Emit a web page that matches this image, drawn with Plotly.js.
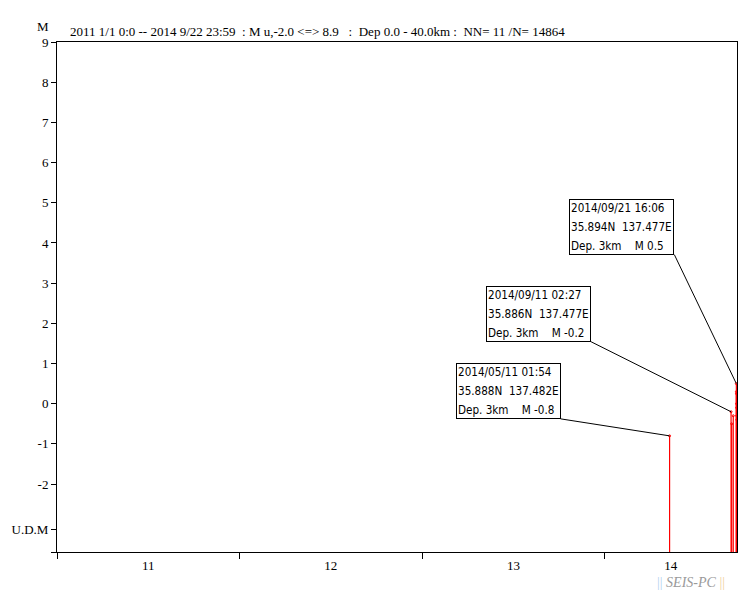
<!DOCTYPE html>
<html>
<head>
<meta charset="utf-8">
<script src="https://cdn.plot.ly/plotly-3.0.1.min.js"></script>
<style>html,body{margin:0;padding:0;background:#fff;}</style>
</head>
<body>
<div id="chart" style="width:751px;height:593px;"></div>
<script>
// ---- data ----
const eventTimes = ['2014-05-11 01:54', '2014-09-11 02:27', '2014-09-12 08:00', '2014-09-15 12:00',
  '2014-09-21 16:06', '2014-09-21 19:00', '2014-09-21 22:00', '2014-09-22 02:00',
  '2014-09-22 06:00', '2014-09-22 10:00', '2014-09-22 15:00'];
const eventMags = [-0.8, -0.2, -0.5, -0.3, 0.5, 0.3, 0.25, 0.0, -0.1, -0.3, -0.4];

const labelled = [0, 1, 4];
const labelDates = ['2014/05/11 01:54', '2014/09/11 02:27', '2014/09/21 16:06'];
const labelLat = ['35.888N', '35.886N', '35.894N'];
const labelLon = ['137.482E', '137.477E', '137.477E'];
const labelDep = ['3km', '3km', '3km'];
const labelOffsets = [[-109, -17], [-140, -70], [-62, -129]];

const yearStarts = ['2011-01-01', '2012-01-01', '2013-01-01', '2014-01-01'];
const yearLabels = ['11', '12', '13', '14'];
const xRange = ['2011-01-01 00:00', '2014-09-23 00:00'];

const yRange = [-3.69, 9];
const udmValue = -3.12;
const yTickVals = [-2, -1, 0, 1, 2, 3, 4, 5, 6, 7, 8, 9];
const yTickText = ['-2', '-1', '0', '1', '2', '3', '4', '5', '6', '7', '8', '9'];

const titleText = '2011 1/1 0:0 -- 2014 9/22 23:59\u00a0\u00a0: M u,-2.0 &lt;=&gt; 8.9\u00a0\u00a0\u00a0:\u00a0\u00a0Dep 0.0 - 40.0km :\u00a0\u00a0NN= 11 /N= 14864';

// ---- build traces ----
const stemX = [], stemY = [];
eventTimes.forEach((t, i) => {
  stemX.push(t, t, null);
  stemY.push(yRange[0], eventMags[i], null);
});

const serif = 'Liberation Serif, Times New Roman, serif';
const narrow = 'Liberation Sans Narrow, DejaVu Sans Condensed, Arial Narrow, Liberation Sans, sans-serif';

const traces = [
  {x: stemX, y: stemY, mode: 'lines', type: 'scatter',
   line: {color: '#ff0000', width: 1.2}, hoverinfo: 'skip', showlegend: false},
  {x: eventTimes, y: eventMags, mode: 'markers', type: 'scatter',
   marker: {symbol: 'circle-open', size: 2, color: '#ff0000', line: {width: 1, color: '#ff0000'}},
   showlegend: false},
  // helper on xaxis2 (segment-centred year labels)
  {x: [xRange[0]], y: [yRange[0]], xaxis: 'x2', mode: 'markers', marker: {opacity: 0}, showlegend: false, hoverinfo: 'skip'}
];

// centre of each (possibly partial) year segment
function toMs(s) { return new Date(s.replace(' ', 'T') + (s.length <= 10 ? 'T00:00:00Z' : ':00Z')).getTime(); }
const bounds = yearStarts.map(toMs).concat([toMs(xRange[1])]);
const yearCenters = yearLabels.map((_, i) => {
  const c = new Date((bounds[i] + bounds[i + 1]) / 2);
  return c.toISOString().slice(0, 19).replace('T', ' ');
});

const annotations = labelled.map((idx, k) => {
  const line = s => '<span style="font-size:11.6px">' + s + '</span>';
  return {
    x: eventTimes[idx], y: eventMags[idx], xref: 'x', yref: 'y',
    text: line(labelDates[k]) + '<br>' +
          line(labelLat[k] + '\u00a0\u00a0' + labelLon[k]) + '<br>' +
          line('Dep. ' + labelDep[k] + '\u00a0\u00a0\u00a0\u00a0M ' + (eventMags[idx] < 0 ? '-' : '') + Math.abs(eventMags[idx]).toFixed(1)),
    showarrow: true, arrowhead: 0, arrowwidth: 1, arrowcolor: '#000',
    ax: labelOffsets[k][0], ay: labelOffsets[k][1],
    xanchor: 'right', yanchor: 'bottom', align: 'left',
    bordercolor: '#000', borderwidth: 1, borderpad: 1, bgcolor: '#fff',
    font: {family: narrow, size: 14.6, color: '#000'}
  };
});

annotations.push({
  xref: 'paper', yref: 'paper', x: 0, y: 1, xanchor: 'center', yanchor: 'bottom',
  xshift: -14, yshift: 6, text: 'M', showarrow: false,
  font: {family: serif, size: 13, color: '#000'}
});
annotations.push({
  xref: 'paper', yref: 'paper', x: 1, y: 0, xanchor: 'right', yanchor: 'top',
  xshift: -10, yshift: -21, showarrow: false,
  text: '<span style="color:#b4d2f0">||</span> <i>SEIS-PC</i> <span style="color:#f0d2a0">||</span>',
  font: {family: serif, size: 14, color: '#9a9a9a'}
});

const layout = {
  width: 751, height: 593,
  margin: {l: 57, r: 14, t: 42, b: 41, pad: 0},
  paper_bgcolor: '#fff', plot_bgcolor: '#fff',
  title: {text: titleText, x: 70 / 751, xanchor: 'left', xref: 'container',
          y: 1 - 31 / 593, yanchor: 'middle', yref: 'container',
          font: {family: serif, size: 13, color: '#000'}},
  xaxis: {type: 'date', range: xRange, tickvals: yearStarts, ticktext: yearStarts.map(() => ''),
          ticks: 'outside', ticklen: 6, tickwidth: 1, tickcolor: '#000',
          showline: true, linecolor: '#000', linewidth: 1, mirror: true,
          showgrid: false, zeroline: false, fixedrange: true},
  xaxis2: {type: 'date', range: xRange, overlaying: 'x', anchor: 'y', side: 'bottom',
           tickvals: yearCenters, ticktext: yearLabels, ticks: '', showline: false,
           showgrid: false, zeroline: false, ticklabelstandoff: 4,
           tickfont: {family: serif, size: 13, color: '#000'}},
  yaxis: {range: yRange, tickvals: [yRange[0], udmValue].concat(yTickVals),
          ticktext: ['', 'U.D.M'].concat(yTickText),
          ticks: 'outside', ticklen: 5, tickwidth: 1, tickcolor: '#000',
          showline: true, linecolor: '#000', linewidth: 1, mirror: true,
          showgrid: false, zeroline: false,
          tickfont: {family: serif, size: 13, color: '#000'}},
  annotations: annotations,
  showlegend: false
};

Plotly.newPlot('chart', traces, layout, {staticPlot: true, displayModeBar: false});
</script>
</body>
</html>
